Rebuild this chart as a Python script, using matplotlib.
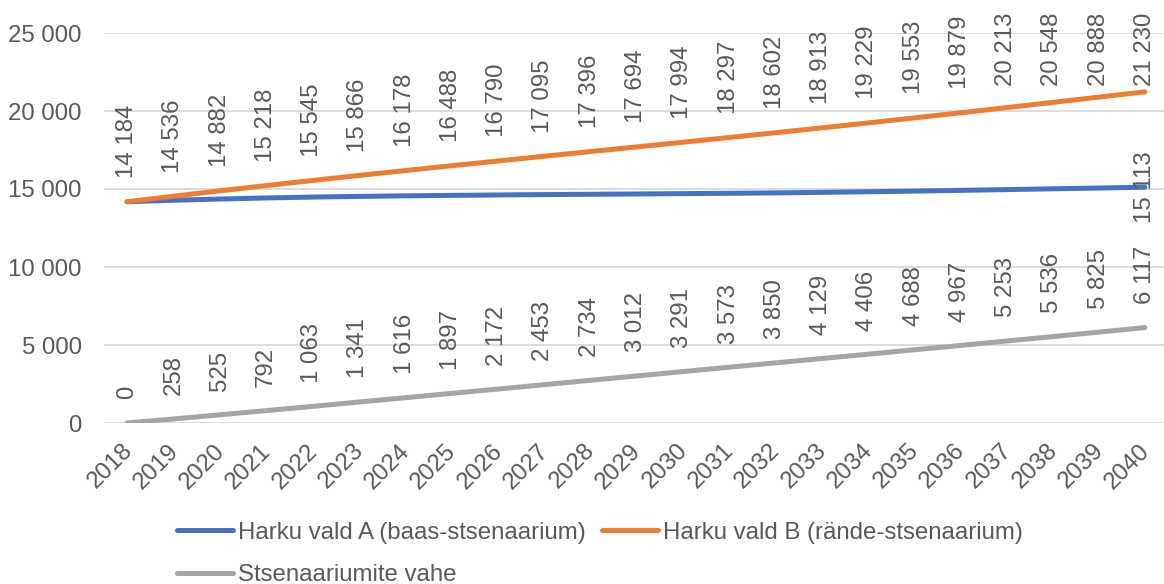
import matplotlib.pyplot as plt
import matplotlib.transforms as mtransforms

# andmed
years = [str(y) for y in range(2018, 2041)]
harku_a = [14184, 14278, 14357, 14426, 14482, 14525, 14562, 14591, 14618, 14642, 14662, 14682,
           14703, 14724, 14752, 14784, 14823, 14865, 14912, 14960, 15012, 15063, 15113]
harku_b = [14184, 14536, 14882, 15218, 15545, 15866, 16178, 16488, 16790, 17095, 17396, 17694,
           17994, 18297, 18602, 18913, 19229, 19553, 19879, 20213, 20548, 20888, 21230]
vahe = [0, 258, 525, 792, 1063, 1341, 1616, 1897, 2172, 2453, 2734, 3012,
        3291, 3573, 3850, 4129, 4406, 4688, 4967, 5253, 5536, 5825, 6117]
y_ticks = [0, 5000, 10000, 15000, 20000, 25000]

label_a = "Harku vald A (baas-stsenaarium)"
label_b = "Harku vald B (rände-stsenaarium)"
label_vahe = "Stsenaariumite vahe"

plt.rcParams['font.family'] = ['Liberation Sans', 'DejaVu Sans']
text_col = '#595959'
fs = 17.3


def fmt(v):
    return f"{v:,}".replace(",", " ")


fig = plt.figure(figsize=(11.64, 5.84), dpi=100)
ax = fig.add_axes([104 / 1164, 1 - 423 / 584, 1064 / 1164, 390 / 584])

x = list(range(len(years)))
la, = ax.plot(x, harku_a, color='#4472C4', lw=3.6, solid_capstyle='round', zorder=3)
lb, = ax.plot(x, harku_b, color='#ED7D31', lw=3.6, solid_capstyle='round', zorder=3)
lv, = ax.plot(x, vahe, color='#A5A5A5', lw=3.6, solid_capstyle='round', zorder=3)

# sildid
anns = []
for series in (harku_b, vahe):
    for xi, v in zip(x, series):
        anns.append(ax.annotate(fmt(v), (xi, v), xytext=(0, 17), textcoords='offset points',
                                rotation=90, ha='center', va='bottom', fontsize=fs,
                                color=text_col))
ax.annotate(fmt(harku_a[-1]), (x[-1], harku_a[-1]), rotation=90, ha='center',
            va='center', fontsize=fs, color=text_col, zorder=4)

ax.set_xlim(-0.5, len(years) - 0.5)
ax.set_ylim(0, 25000)
ax.set_yticks(y_ticks)
ax.set_yticklabels([fmt(v) for v in y_ticks])
ax.set_xticks(x)
ax.set_xticklabels(years, rotation=45, ha='right', va='top', rotation_mode='anchor')
ax.tick_params(axis='y', length=0, pad=16, labelsize=fs, labelcolor=text_col)
ax.tick_params(axis='x', length=0, pad=12, labelsize=fs, labelcolor=text_col)
shift = mtransforms.ScaledTranslation(-6 / 100, 0, fig.dpi_scale_trans)
for lab in ax.get_xticklabels():
    lab.set_transform(lab.get_transform() + shift)
ax.grid(axis='y', color='#D9D9D9', lw=1.3)
ax.set_axisbelow(True)
for s in ax.spines.values():
    s.set_visible(False)

fig.legend([la, lv, lb], [label_a, label_vahe, label_b], ncol=2, frameon=False,
           loc='center left', bbox_to_anchor=(177 / 1164, 1 - 554 / 584),
           fontsize=fs, labelcolor=text_col, handlelength=2.35, handletextpad=0.2,
           columnspacing=0.65, labelspacing=0.85, borderpad=0, borderaxespad=0)

# sildid ei lähe üle ülaserva (nagu Excelis)
fig.canvas.draw()
renderer = fig.canvas.get_renderer()
top_limit = fig.bbox.height - 13
for a in anns:
    bb = a.get_window_extent(renderer)
    if bb.y1 > top_limit:
        a.xyann = (0, 17 - (bb.y1 - top_limit) * 72 / fig.dpi)

plt.savefig("out.png", dpi=100)
